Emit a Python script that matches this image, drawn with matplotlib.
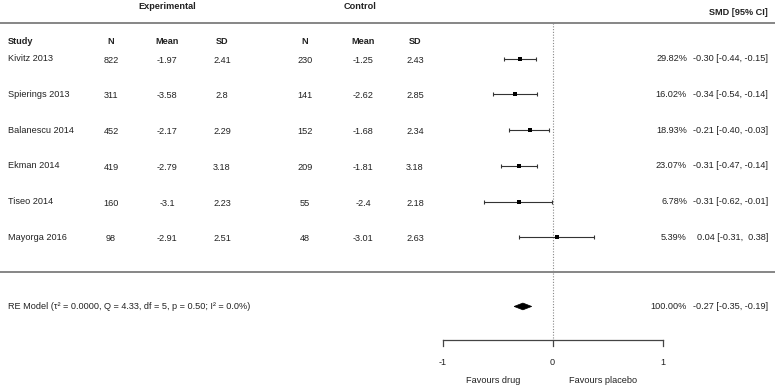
import matplotlib
matplotlib.use("Agg")
import matplotlib.pyplot as plt
from matplotlib.patches import Polygon
from matplotlib.transforms import blended_transform_factory

plt.rcParams['font.family'] = ['Liberation Sans', 'DejaVu Sans']

studies = ["Kivitz 2013", "Spierings 2013", "Balanescu 2014", "Ekman 2014", "Tiseo 2014", "Mayorga 2016"]
n_exp = [822, 311, 452, 419, 160, 98]
mean_exp = ["-1.97", "-3.58", "-2.17", "-2.79", "-3.1", "-2.91"]
sd_exp = ["2.41", "2.8", "2.29", "3.18", "2.23", "2.51"]
n_ctrl = [230, 141, 152, 209, 55, 48]
mean_ctrl = ["-1.25", "-2.62", "-1.68", "-1.81", "-2.4", "-3.01"]
sd_ctrl = ["2.43", "2.85", "2.34", "3.18", "2.18", "2.63"]
weights = [29.82, 16.02, 18.93, 23.07, 6.78, 5.39]
smd = [-0.30, -0.34, -0.21, -0.31, -0.31, 0.04]
ci_lo = [-0.44, -0.54, -0.40, -0.47, -0.62, -0.31]
ci_hi = [-0.15, -0.14, -0.03, -0.14, -0.01, 0.38]
re_est, re_lo, re_hi = -0.27, -0.35, -0.19
re_label = "RE Model (τ² = 0.0000, Q = 4.33, df = 5, p = 0.50; I² = 0.0%)"
axis_ticks = [-1, 0, 1]

W, H = 775, 387
fig = plt.figure(figsize=(W / 100, H / 100), dpi=100)
ax = fig.add_axes([0, 0, 1, 1])
zero_px, unit_px = 552.6, 110.0
ax.set_xlim(-zero_px / unit_px, (W - zero_px) / unit_px)
row0_px, row_px = 58.7, 35.75
ax.set_ylim((H - row0_px) / row_px, -row0_px / row_px)
ax.axis("off")

tr = blended_transform_factory(ax.transAxes, ax.transData)
fs = 6.6
tc = "#222222"

def col(px):
    return px / W

n = len(studies)
# Group headers
ax.text(col(167), -1.47, "Experimental", ha="center", va="center", fontsize=fs, fontweight="bold", color=tc, transform=tr)
ax.text(col(360), -1.47, "Control", ha="center", va="center", fontsize=fs, fontweight="bold", color=tc, transform=tr)
ax.text(col(768), -1.30, "SMD [95% CI]", ha="right", va="center", fontsize=fs, fontweight="bold", color=tc, transform=tr)

# top and separator lines
ax.axhline(-1, color="#666666", lw=1.1)
ax.axhline(n - 0.03, color="#666666", lw=1.1)

# column headers
hy = -0.47
ax.text(col(8), hy, "Study", ha="left", va="center", fontsize=fs, fontweight="bold", color=tc, transform=tr)
cols_px = [111, 167, 222, 305, 363, 415]
for px, lab in zip(cols_px, ["N", "Mean", "SD", "N", "Mean", "SD"]):
    ax.text(col(px), hy, lab, ha="center", va="center", fontsize=fs, fontweight="bold", color=tc, transform=tr)

# dotted zero line
axis_y = 7.87
ax.plot([0, 0], [-1, axis_y], color="#888888", lw=0.8, ls=(0, (1, 1.5)))

for i in range(n):
    y = i
    ax.text(col(8), y, studies[i], ha="left", va="center", fontsize=fs, color=tc, transform=tr)
    vals = [str(n_exp[i]), mean_exp[i], sd_exp[i], str(n_ctrl[i]), mean_ctrl[i], sd_ctrl[i]]
    for px, v in zip(cols_px, vals):
        ax.text(col(px), y + 0.04, v, ha="center", va="center", fontsize=fs, color=tc, transform=tr)
    ax.errorbar([smd[i]], [y], xerr=[[smd[i] - ci_lo[i]], [ci_hi[i] - smd[i]]],
                fmt="none", ecolor="#333333", elinewidth=0.8, capsize=1.5, capthick=0.8)
    ax.plot([smd[i]], [y], marker="s", color="black", ms=2.1 + 0.03 * weights[i], mew=0)
    ax.text(col(687), y, f"{weights[i]:.2f}%", ha="right", va="center", fontsize=fs, color=tc, transform=tr)
    ax.text(col(768), y, f"{smd[i]:.2f} [{ci_lo[i]:.2f}, {ci_hi[i]:5.2f}]", ha="right", va="center",
            fontsize=fs, color=tc, transform=tr)

# summary
sy = n + 0.93
ax.text(col(8), sy, re_label, ha="left", va="center", fontsize=fs, color=tc, transform=tr)
h = 0.095
ax.add_patch(Polygon([[re_lo, sy], [re_est, sy - h], [re_hi, sy], [re_est, sy + h]],
                     closed=True, facecolor="black", edgecolor="black", lw=0.5))
ax.text(col(687), sy, "100.00%", ha="right", va="center", fontsize=fs, color=tc, transform=tr)
ax.text(col(768), sy, f"{re_est:.2f} [{re_lo:.2f}, {re_hi:.2f}]", ha="right", va="center",
        fontsize=fs, color=tc, transform=tr)

# x axis
ax.plot([axis_ticks[0], axis_ticks[-1]], [axis_y, axis_y], color="#444444", lw=0.9)
for t in axis_ticks:
    ax.plot([t, t], [axis_y, axis_y + 0.16], color="#444444", lw=0.9)
    ax.text(t, axis_y + 0.62, f"{t}", ha="center", va="center", fontsize=fs, color=tc)

ax.text(-0.54, axis_y + 1.12, "Favours drug", ha="center", va="center", fontsize=fs, color=tc)
ax.text(0.46, axis_y + 1.12, "Favours placebo", ha="center", va="center", fontsize=fs, color=tc)

fig.savefig("out.png", dpi=100)
